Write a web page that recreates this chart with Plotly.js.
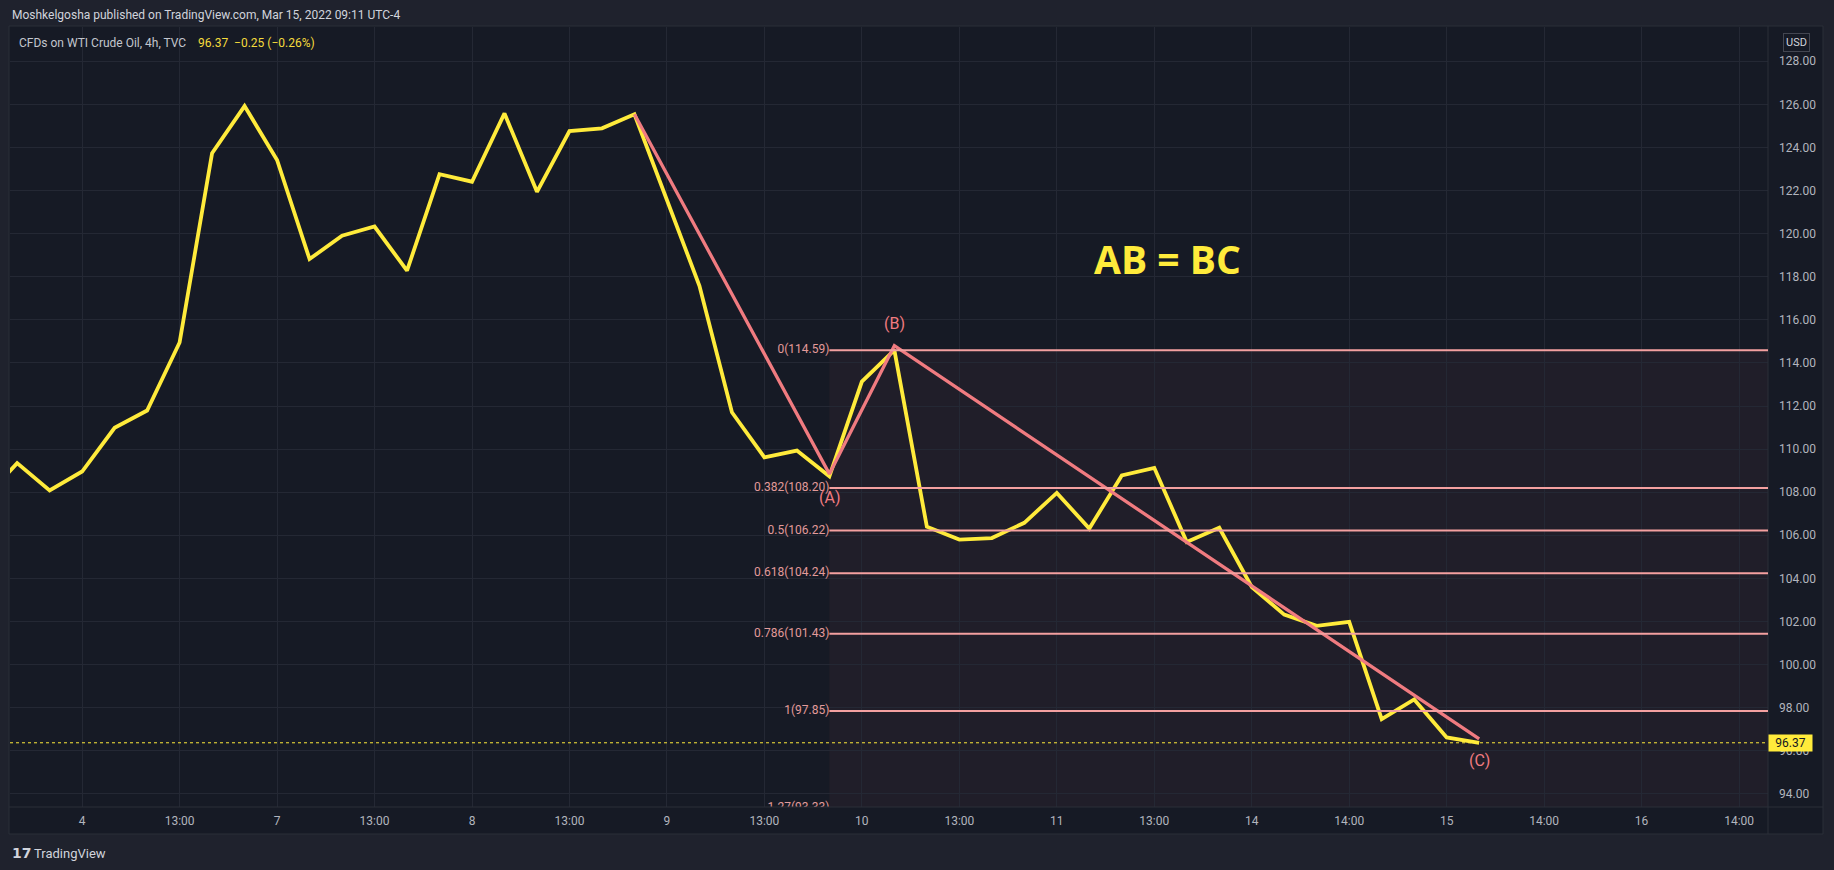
<!DOCTYPE html>
<html>
<head>
<meta charset="utf-8">
<script src="https://cdn.plot.ly/plotly-3.0.1.min.js"></script>
<style>
  html, body { margin: 0; padding: 0; background: #1f222d; }
  #chart { width: 1834px; height: 870px; }
</style>
</head>
<body>
<div id="chart"></div>
<script>
// ---- Data (4h bars, bar index 0 = Mar 4) ----
const barIndex = [-3, -2, -1, 0, 1, 2, 3, 4, 5, 6, 7, 8, 9, 10, 11, 12, 13, 14, 15, 16, 17, 18, 19, 20,
  21, 22, 23, 24, 25, 26, 27, 28, 29, 30, 31, 32, 33, 34, 35, 36, 37, 38, 39, 40, 41, 42, 43];
const closePrice = [107.70, 109.35, 108.08, 108.96, 110.99, 111.79, 114.95, 123.73, 125.92, 123.42, 118.82,
  119.90, 120.33, 118.28, 122.76, 122.41, 125.58, 121.94, 124.76, 124.89, 125.54, 121.57, 117.58, 111.71,
  109.62, 109.93, 108.74, 113.13, 114.59, 106.40, 105.80, 105.87, 106.58, 107.97, 106.31, 108.78, 109.13,
  105.69, 106.35, 103.60, 102.32, 101.80, 101.98, 97.47, 98.38, 96.62, 96.37];

const abcIndex = [17, 23, 25, 43];
const abcPrice = [125.54, 108.85, 114.80, 96.55];
const abcLabels = ['', '(A)', '(B)', '(C)'];

const fibRatios = [0, 0.382, 0.5, 0.618, 0.786, 1, 1.27];
const fibPrices = [114.59, 108.20, 106.22, 104.24, 101.43, 97.85, 93.33];
const fibAnchorIndex = 23;

const timeTickIndex = [0, 3, 6, 9, 12, 15, 18, 21, 24, 27, 30, 33, 36, 39, 42, 45, 48, 51];
const timeTickLabels = ['4', '13:00', '7', '13:00', '8', '13:00', '9', '13:00', '10', '13:00', '11', '13:00',
  '14', '14:00', '15', '14:00', '16', '14:00'];

const lastPrice = 96.37;
const priceChange = -0.25;
const priceChangePct = -0.26;

// ---- Geometry helpers (pixel -> paper) ----
const W = 1834, H = 870;
const PL = 10, PR = 1768, PT = 27, PB = 807;
const px = x => (x - PL) / (PR - PL);
const py = y => (PB - y) / (PB - PT);

const xRange = [-2.22, 51.89];
const yRange = [93.39, 129.59];

const paneBg = '#161a25';
const gridColor = '#242834';
const borderColor = '#2a2e39';
const yellow = '#ffeb3b';
const pink = '#f07b80';
const fibColor = '#f4a0a0';
const tickColor = '#b2b5be';
const FONT = 'Roboto, "Open Sans", sans-serif';

const traces = [
  {
    x: barIndex, y: closePrice, type: 'scatter', mode: 'lines',
    line: { color: yellow, width: 3.8 }, hoverinfo: 'skip', cliponaxis: true
  },
  {
    x: abcIndex, y: abcPrice, type: 'scatter', mode: 'lines',
    line: { color: pink, width: 3.3 }, hoverinfo: 'skip', cliponaxis: true
  },
  {
    x: fibPrices.map(() => fibAnchorIndex), y: fibPrices, type: 'scatter', mode: 'text',
    text: fibRatios.map((r, i) => String(r) + '(' + fibPrices[i].toFixed(2) + ')'),
    textposition: 'middle left',
    textfont: { family: FONT, size: 12, color: '#e39a9a' },
    hoverinfo: 'skip', cliponaxis: true
  }
];

const shapes = [
  // pane background and frame
  { type: 'rect', xref: 'paper', yref: 'paper', x0: px(9), x1: px(1823), y0: py(26), y1: py(834),
    fillcolor: paneBg, line: { color: borderColor, width: 1 }, layer: 'below' },
  // price-scale separator
  { type: 'line', xref: 'paper', yref: 'paper', x0: px(1768), x1: px(1768), y0: py(26), y1: py(834),
    line: { color: borderColor, width: 1 } },
  // time-scale separator
  { type: 'line', xref: 'paper', yref: 'paper', x0: px(9), x1: px(1823), y0: py(807), y1: py(807),
    line: { color: borderColor, width: 1 } },
  // fib background
  { type: 'rect', xref: 'x', yref: 'y', x0: fibAnchorIndex, x1: xRange[1] + 5,
    y0: fibPrices[0], y1: fibPrices[fibPrices.length - 1],
    fillcolor: 'rgba(242,120,120,0.05)', line: { width: 0 }, layer: 'below' },
  // last price dotted line
  { type: 'line', xref: 'paper', yref: 'y', x0: 0, x1: 1, y0: lastPrice, y1: lastPrice,
    line: { color: yellow, width: 1, dash: 'dot' } }
];
fibPrices.forEach(p => {
  shapes.push({ type: 'line', xref: 'x', yref: 'y', x0: fibAnchorIndex, x1: xRange[1] + 5, y0: p, y1: p,
    line: { color: fibColor, width: 2 } });
});

const labelShift = { '(A)': -24, '(B)': 22, '(C)': -22 };
const annotations = [
  { xref: 'paper', yref: 'paper', x: px(10), y: py(15), xanchor: 'left', yanchor: 'middle', showarrow: false,
    text: 'Moshkelgosha published on TradingView.com, Mar 15, 2022 09:11 UTC-4',
    font: { family: FONT, size: 12, color: '#d1d4dc' } },
  { xref: 'paper', yref: 'paper', x: px(17), y: py(42.5), xanchor: 'left', yanchor: 'middle', showarrow: false,
    text: 'CFDs on WTI Crude Oil, 4h, TVC',
    font: { family: FONT, size: 12, color: '#c3c6ce' } },
  { xref: 'paper', yref: 'paper', x: px(196), y: py(42.5), xanchor: 'left', yanchor: 'middle', showarrow: false,
    text: lastPrice.toFixed(2) + '\u00a0\u00a0' + '\u2212' + Math.abs(priceChange).toFixed(2) +
      ' (\u2212' + Math.abs(priceChangePct).toFixed(2) + '%)',
    font: { family: FONT, size: 12, color: '#f5dc3c' } },
  { xref: 'x', yref: 'y', x: 33.42, y: 118.83, xanchor: 'center', yanchor: 'middle', showarrow: false,
    text: '<b>AB = BC</b>', font: { family: '"Open Sans", sans-serif', size: 39, color: yellow } },
  { xref: 'paper', yref: 'paper', x: px(1796), y: py(42.5), xanchor: 'center', yanchor: 'middle', showarrow: false,
    text: 'USD', font: { family: FONT, size: 11, color: '#d1d4dc' },
    bordercolor: '#434651', borderwidth: 1, borderpad: 2, bgcolor: paneBg },
  { xref: 'paper', yref: 'y', x: px(1768), y: lastPrice, xanchor: 'left', yanchor: 'middle', showarrow: false,
    text: lastPrice.toFixed(2), font: { family: FONT, size: 12, color: '#131722' },
    bgcolor: yellow, width: 41, height: 14, borderpad: 1 },
  { xref: 'paper', yref: 'paper', x: px(10), y: py(853), xanchor: 'left', yanchor: 'middle', showarrow: false,
    text: '<b>17</b>', font: { family: '"DejaVu Sans", sans-serif', size: 14, color: '#d1d4dc' } },
  { xref: 'paper', yref: 'paper', x: px(32), y: py(853), xanchor: 'left', yanchor: 'middle', showarrow: false,
    text: 'TradingView', font: { family: FONT, size: 13, color: '#d1d4dc' } }
];
abcLabels.forEach((lab, i) => {
  if (!lab) return;
  annotations.push({ xref: 'x', yref: 'y', x: abcIndex[i], y: abcPrice[i], showarrow: false,
    xanchor: 'center', yanchor: 'middle', yshift: labelShift[lab], text: lab,
    font: { family: FONT, size: 16, color: pink } });
});

const layout = {
  width: W, height: H,
  margin: { l: PL, r: W - PR, t: PT, b: H - PB, pad: 0 },
  paper_bgcolor: '#1f222d',
  plot_bgcolor: paneBg,
  showlegend: false,
  xaxis: {
    range: xRange, tickvals: timeTickIndex, ticktext: timeTickLabels,
    showgrid: true, gridcolor: gridColor, gridwidth: 1, zeroline: false, showline: false,
    ticks: '', ticklabelstandoff: 5,
    tickfont: { family: FONT, size: 12, color: tickColor }, fixedrange: true
  },
  yaxis: {
    range: yRange, side: 'right', tick0: 0, dtick: 2, tickformat: '.2f',
    showgrid: true, gridcolor: gridColor, gridwidth: 1, zeroline: false, showline: false,
    ticks: '', ticklabelstandoff: 10,
    tickfont: { family: FONT, size: 12, color: tickColor }, fixedrange: true
  },
  shapes: shapes,
  annotations: annotations
};

Plotly.newPlot('chart', traces, layout, { displayModeBar: false, staticPlot: true });
</script>
</body>
</html>
